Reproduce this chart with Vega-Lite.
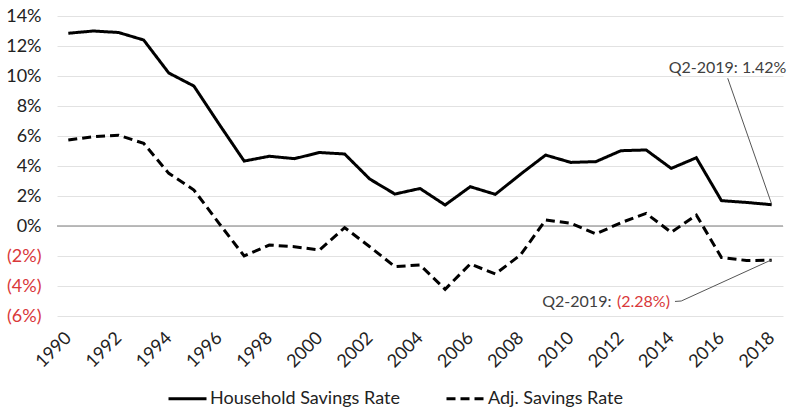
{
  "$schema": "https://vega.github.io/schema/vega-lite/v6.json",
  "width": 726,
  "height": 300,
  "autosize": {"type": "none"},
  "padding": {"left": 57, "top": 16, "right": 18, "bottom": 101},
  "background": "white",
  "config": {
    "view": {"stroke": null},
    "font": "Lato",
    "axis": {"labelFont": "Lato", "labelColor": "#222222"},
    "axisY": {
      "values": [-6, -4, -2, 0, 2, 4, 6, 8, 10, 12, 14],
      "domain": false,
      "ticks": false,
      "grid": true,
      "gridColor": "#e2e2e2",
      "gridWidth": 1,
      "labelOverlap": false,
      "labelFlush": false,
      "labelFontSize": 18,
      "labelPadding": 16
    },
    "legend": {"labelFont": "Lato"}
  },
  "datasets": {
    "series": [
      {"year": 1990, "series": "Household Savings Rate", "value": 12.85},
      {"year": 1991, "series": "Household Savings Rate", "value": 13.0},
      {"year": 1992, "series": "Household Savings Rate", "value": 12.9},
      {"year": 1993, "series": "Household Savings Rate", "value": 12.4},
      {"year": 1994, "series": "Household Savings Rate", "value": 10.2},
      {"year": 1995, "series": "Household Savings Rate", "value": 9.33},
      {"year": 1996, "series": "Household Savings Rate", "value": 6.8},
      {"year": 1997, "series": "Household Savings Rate", "value": 4.33},
      {"year": 1998, "series": "Household Savings Rate", "value": 4.65},
      {"year": 1999, "series": "Household Savings Rate", "value": 4.49},
      {"year": 2000, "series": "Household Savings Rate", "value": 4.9},
      {"year": 2001, "series": "Household Savings Rate", "value": 4.8},
      {"year": 2002, "series": "Household Savings Rate", "value": 3.13},
      {"year": 2003, "series": "Household Savings Rate", "value": 2.13},
      {"year": 2004, "series": "Household Savings Rate", "value": 2.5},
      {"year": 2005, "series": "Household Savings Rate", "value": 1.4},
      {"year": 2006, "series": "Household Savings Rate", "value": 2.62},
      {"year": 2007, "series": "Household Savings Rate", "value": 2.11},
      {"year": 2008, "series": "Household Savings Rate", "value": 3.45},
      {"year": 2009, "series": "Household Savings Rate", "value": 4.73},
      {"year": 2010, "series": "Household Savings Rate", "value": 4.24},
      {"year": 2011, "series": "Household Savings Rate", "value": 4.29},
      {"year": 2012, "series": "Household Savings Rate", "value": 5.02},
      {"year": 2013, "series": "Household Savings Rate", "value": 5.07},
      {"year": 2014, "series": "Household Savings Rate", "value": 3.84},
      {"year": 2015, "series": "Household Savings Rate", "value": 4.55},
      {"year": 2016, "series": "Household Savings Rate", "value": 1.69},
      {"year": 2017, "series": "Household Savings Rate", "value": 1.57},
      {"year": 2018, "series": "Household Savings Rate", "value": 1.42},
      {"year": 1990, "series": "Adj. Savings Rate", "value": 5.73},
      {"year": 1991, "series": "Adj. Savings Rate", "value": 5.96},
      {"year": 1992, "series": "Adj. Savings Rate", "value": 6.05},
      {"year": 1993, "series": "Adj. Savings Rate", "value": 5.51},
      {"year": 1994, "series": "Adj. Savings Rate", "value": 3.51},
      {"year": 1995, "series": "Adj. Savings Rate", "value": 2.4},
      {"year": 1996, "series": "Adj. Savings Rate", "value": 0.18},
      {"year": 1997, "series": "Adj. Savings Rate", "value": -2.0},
      {"year": 1998, "series": "Adj. Savings Rate", "value": -1.27},
      {"year": 1999, "series": "Adj. Savings Rate", "value": -1.38},
      {"year": 2000, "series": "Adj. Savings Rate", "value": -1.6},
      {"year": 2001, "series": "Adj. Savings Rate", "value": -0.11},
      {"year": 2002, "series": "Adj. Savings Rate", "value": -1.38},
      {"year": 2003, "series": "Adj. Savings Rate", "value": -2.71},
      {"year": 2004, "series": "Adj. Savings Rate", "value": -2.6},
      {"year": 2005, "series": "Adj. Savings Rate", "value": -4.22},
      {"year": 2006, "series": "Adj. Savings Rate", "value": -2.53},
      {"year": 2007, "series": "Adj. Savings Rate", "value": -3.2},
      {"year": 2008, "series": "Adj. Savings Rate", "value": -1.93},
      {"year": 2009, "series": "Adj. Savings Rate", "value": 0.4},
      {"year": 2010, "series": "Adj. Savings Rate", "value": 0.18},
      {"year": 2011, "series": "Adj. Savings Rate", "value": -0.53},
      {"year": 2012, "series": "Adj. Savings Rate", "value": 0.22},
      {"year": 2013, "series": "Adj. Savings Rate", "value": 0.84},
      {"year": 2014, "series": "Adj. Savings Rate", "value": -0.42},
      {"year": 2015, "series": "Adj. Savings Rate", "value": 0.73},
      {"year": 2016, "series": "Adj. Savings Rate", "value": -2.1},
      {"year": 2017, "series": "Adj. Savings Rate", "value": -2.3},
      {"year": 2018, "series": "Adj. Savings Rate", "value": -2.28}
    ],
    "zero": [{"v": 0}],
    "leaders": [
      {"group": "upper", "order": 1, "x": 2016.25, "y": 9.85},
      {"group": "upper", "order": 2, "x": 2018, "y": 1.45},
      {"group": "lower", "order": 1, "x": 2014.15, "y": -5.03},
      {"group": "lower", "order": 2, "x": 2014.4, "y": -5.0},
      {"group": "lower", "order": 3, "x": 2018, "y": -2.25}
    ],
    "labels": [
      {"x": 2016.24, "y": 10.53, "text": "Q2-2019: 1.42%", "kind": "gray", "align": "center"},
      {"x": 2011.62, "y": -5.07, "text": "Q2-2019:", "kind": "gray", "align": "right"},
      {"x": 2013.95, "y": -5.07, "text": "(2.28%)", "kind": "red", "align": "right"}
    ]
  },
  "encoding": {
    "x": {
      "type": "quantitative",
      "scale": {"domain": [1989.55, 2018.45], "nice": false, "zero": false}
    },
    "y": {
      "type": "quantitative",
      "scale": {"domain": [-6, 14], "nice": false},
      "axis": {
        "title": null,
        "values": [-6, -4, -2, 0, 2, 4, 6, 8, 10, 12, 14],
        "labelOverlap": false,
        "labelExpr": "datum.value < 0 ? '(' + abs(datum.value) + '%)' : datum.value + '%'",
        "labelColor": {"condition": {"test": "datum.value < 0", "value": "#d9383a"}, "value": "#222222"}
      }
    }
  },
  "layer": [
    {
      "data": {"name": "zero"},
      "mark": {"type": "rule", "color": "#a6a6a6", "strokeWidth": 1.5},
      "encoding": {
        "y": {"field": "v", "type": "quantitative"}
      }
    },
    {
      "data": {"name": "series"},
      "mark": {"type": "line", "color": "black", "strokeWidth": 3, "strokeCap": "butt"},
      "encoding": {
        "x": {
          "field": "year",
          "type": "quantitative",
          "axis": {
            "values": [1990, 1992, 1994, 1996, 1998, 2000, 2002, 2004, 2006, 2008, 2010, 2012, 2014, 2016, 2018],
            "format": "d",
            "title": null,
            "grid": false,
            "domain": false,
            "ticks": false,
            "labelOverlap": false,
            "labelFlush": false,
            "labelAngle": -45,
            "labelAlign": "right",
            "labelBaseline": "middle",
            "labelFontSize": 18,
            "labelPadding": 19
          }
        },
        "y": {"field": "value", "type": "quantitative"},
        "strokeDash": {
          "field": "series",
          "type": "nominal",
          "scale": {
            "domain": ["Household Savings Rate", "Adj. Savings Rate"],
            "range": [[1, 0], [9, 5]]
          },
          "legend": {
            "title": null,
            "orient": "none",
            "legendX": 110,
            "legendY": 362,
            "direction": "horizontal",
            "symbolType": "stroke",
            "symbolSize": 1444,
            "symbolStrokeWidth": 3,
            "symbolStrokeColor": "black",
            "labelFontSize": 18,
            "labelLimit": 400,
            "labelColor": "#222222",
            "labelOffset": 2,
            "columnPadding": 40
          }
        }
      }
    },
    {
      "data": {"name": "leaders"},
      "mark": {"type": "line", "color": "#555555", "strokeWidth": 1},
      "encoding": {
        "x": {"field": "x", "type": "quantitative"},
        "y": {"field": "y", "type": "quantitative"},
        "detail": {"field": "group"},
        "order": {"field": "order"}
      }
    },
    {
      "data": {"name": "labels"},
      "transform": [{"filter": "datum.align == 'center'"}],
      "mark": {"type": "text", "fontSize": 16, "color": "#404040", "align": "center", "baseline": "middle"},
      "encoding": {
        "x": {"field": "x", "type": "quantitative"},
        "y": {"field": "y", "type": "quantitative"},
        "text": {"field": "text"}
      }
    },
    {
      "data": {"name": "labels"},
      "transform": [{"filter": "datum.align == 'right'"}],
      "mark": {"type": "text", "fontSize": 16, "align": "right", "baseline": "middle"},
      "encoding": {
        "x": {"field": "x", "type": "quantitative"},
        "y": {"field": "y", "type": "quantitative"},
        "text": {"field": "text"},
        "color": {
          "field": "kind",
          "type": "nominal",
          "scale": {"domain": ["gray", "red"], "range": ["#404040", "#d9383a"]},
          "legend": null
        }
      }
    }
  ]
}
